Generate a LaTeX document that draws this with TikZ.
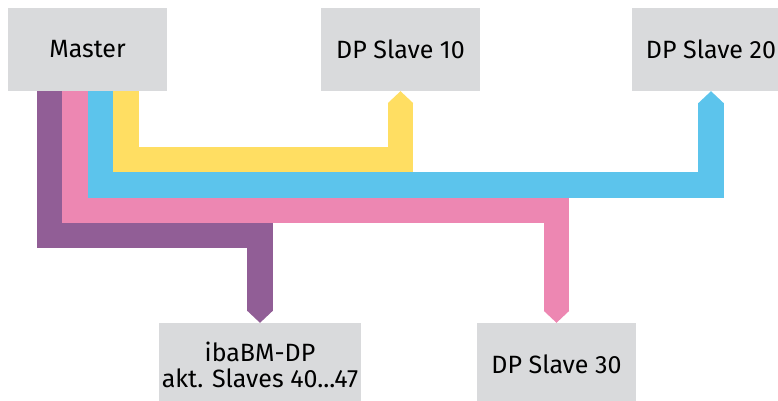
\documentclass[tikz,border=0pt]{standalone}
\usepackage{fontspec}
\setmainfont{Fira Sans}
\usetikzlibrary{arrows.meta}
\definecolor{boxgray}{RGB}{217,218,220}
\definecolor{busviolet}{RGB}{145,94,150}
\definecolor{buspink}{RGB}{237,135,178}
\definecolor{busblue}{RGB}{92,196,236}
\definecolor{busyellow}{RGB}{255,222,98}

\begin{document}
\begin{tikzpicture}[x=1pt,y=-1pt,
	station/.style={fill=boxgray,minimum width=159pt,minimum height=83pt,inner sep=0pt,
		align=center,font=\fontsize{25}{26}\selectfont},
	band/.style={draw=#1,line width=25.5pt,
		-{Triangle[length=12pt,width=25.5pt,line width=0pt]}}]
	\useasboundingbox (0,0) rectangle (778,400);
	\node[station] (master) at (87.5,49.5) {Master};
	\node[station] (s10) at (400.5,49.5) {DP Slave 10};
	\node[station] (s20) at (711,49.5) {DP Slave 20};
	\node[station,minimum width=202pt] (iba) at (260,364.5) {ibaBM-DP\\akt. Slaves 40...47};
	\node[station] (s30) at (556.5,364.5) {DP Slave 30};
	\draw[band=busviolet] ([xshift=-38.25pt]master.south) -- ++(0,144.5) -| (iba.north);
	\draw[band=buspink] ([xshift=-12.75pt]master.south) -- ++(0,119) -| (s30.north);
	\draw[band=busblue] ([xshift=12.75pt]master.south) -- ++(0,94) -| (s20.south);
	\draw[band=busyellow] ([xshift=38.25pt]master.south) -- ++(0,68.5) -| (s10.south);
\end{tikzpicture}
\end{document}
